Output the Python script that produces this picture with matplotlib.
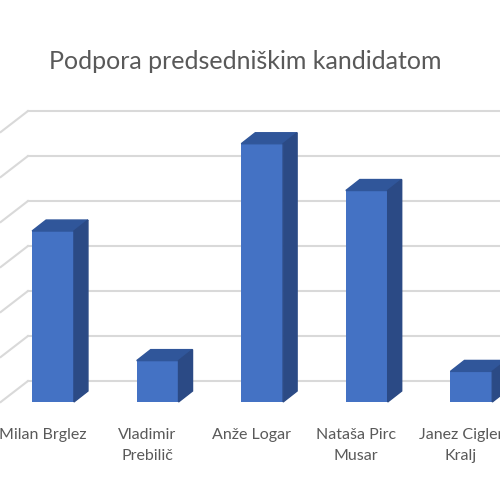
import matplotlib.pyplot as plt
from matplotlib.patches import Polygon
import numpy as np

# Datos del grafico
kandidati = ['Milan Brglez', 'Vladimir\nPrebilič', 'Anže Logar', 'Nataša Pirc\nMusar', 'Janez Cigler\nKralj']
podpora = [19.0, 4.6, 28.7, 23.5, 3.4]
mreza = [0, 5, 10, 15, 20, 25, 30]

barva_spredaj = '#4472c4'
barva_zgoraj = '#30569a'
barva_stran = '#2b4a85'
barva_mreze = '#d9d9d9'
barva_teksta = '#595959'

sirina = 0.40
# globina stolpcev in stene (v enotah osi)
dx, dy = 0.134, 1.22
wdx, wdy = 0.26, 2.33

fig = plt.figure(figsize=(5, 5), dpi=100)
ax = fig.add_axes([0, 0, 1, 1])
ax.set_xlim(-0.507, 4.274)
ax.set_ylim(-10.89, 44.67)
ax.axis('off')

# mreza: zadnja stena + leva stena
x_levo = -0.5
for v in mreza:
    ax.plot([x_levo + wdx, 5.0], [v + wdy, v + wdy], color=barva_mreze, lw=1.5, zorder=1)
    ax.plot([x_levo, x_levo + wdx], [v, v + wdy], color=barva_mreze, lw=1.5, zorder=1)

x = np.arange(len(kandidati))
ax.bar(x, podpora, width=sirina, color=barva_spredaj, zorder=3)

for xi, v in zip(x, podpora):
    x0, x1 = xi - sirina / 2, xi + sirina / 2
    zgoraj = [(x0, v), (x1, v), (x1 + dx, v + dy), (x0 + dx, v + dy)]
    stran = [(x1, 0), (x1 + dx, dy), (x1 + dx, v + dy), (x1, v)]
    ax.add_patch(Polygon(zgoraj, closed=True, color=barva_zgoraj, zorder=3))
    ax.add_patch(Polygon(stran, closed=True, color=barva_stran, zorder=3))

for xi, ime in zip(x, kandidati):
    ax.text(xi - 0.1, -2.9, ime, ha='center', va='top', fontsize=11.5,
            color=barva_teksta, family='Lato', linespacing=1.65)

fig.text(0.49, 1 - 61.7 / 500, 'Podpora predsedniškim kandidatom', ha='center', va='center',
         fontsize=18, color=barva_teksta, family='Lato')

fig.savefig('out.png', dpi=100)
